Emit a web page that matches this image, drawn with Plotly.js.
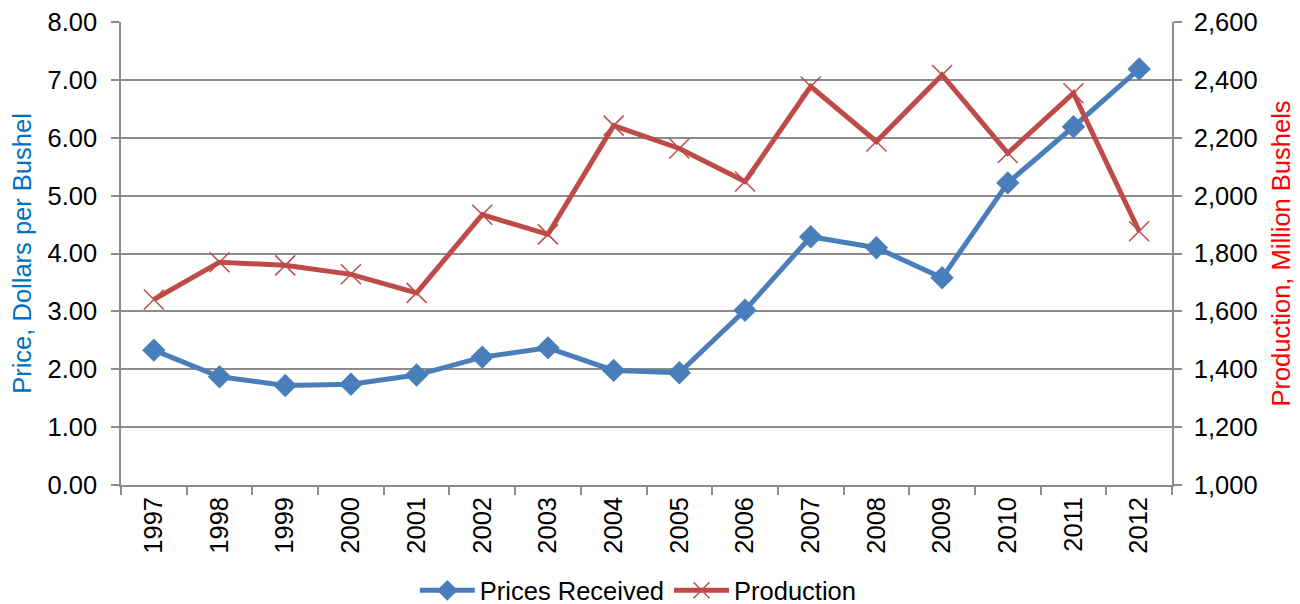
<!DOCTYPE html>
<html>
<head>
<meta charset="utf-8">
<script src="https://cdn.plot.ly/plotly-3.0.1.min.js"></script>
<style>html,body{margin:0;padding:0;background:#fff;}#chart{width:1300px;height:604px;}</style>
</head>
<body>
<div id="chart"></div>
<script>
const years = ["1997","1998","1999","2000","2001","2002","2003","2004","2005","2006","2007","2008","2009","2010","2011","2012"];
const pricesReceived = [2.33, 1.87, 1.72, 1.74, 1.90, 2.21, 2.37, 1.98, 1.94, 3.02, 4.29, 4.10, 3.58, 5.22, 6.19, 7.19];
const production = [1641, 1770, 1759, 1728, 1664, 1934, 1866, 2242, 2163, 2049, 2377, 2187, 2417, 2147, 2354, 1877];

const font = "Liberation Sans, Arial, sans-serif";
const fs = 25.5;
const gridColor = "#8c8c8c";

const traces = [
  {
    x: years, y: pricesReceived, name: "Prices Received", type: "scatter", mode: "lines+markers",
    line: {color: "#4A7EBB", width: 5},
    marker: {symbol: "diamond", size: 18, color: "#4A7EBB"},
    yaxis: "y"
  },
  {
    x: years, y: production, name: "Production", type: "scatter", mode: "lines+markers",
    line: {color: "#BE4B48", width: 5},
    marker: {symbol: "x-thin-open", size: 20, color: "#BE4B48", line: {color: "#BE4B48", width: 1.5}},
    yaxis: "y2"
  }
];

const layout = {
  width: 1300, height: 604,
  margin: {l: 121, r: 128, t: 22, b: 119},
  paper_bgcolor: "#ffffff", plot_bgcolor: "#ffffff",
  font: {family: font, size: fs, color: "#000000"},
  showlegend: true,
  legend: {orientation: "h", x: 0.491, xanchor: "center", xref: "container",
           y: 0.022, yanchor: "middle", yref: "container",
           font: {family: font, size: fs, color: "#000"}, itemwidth: 55, traceorder: "normal"},
  xaxis: {
    type: "category", range: [-0.5, years.length - 0.5], autorange: false,
    tickangle: -90, showgrid: false,
    showline: true, linecolor: gridColor, linewidth: 1.5,
    ticks: "outside", tickson: "boundaries", ticklen: 8, tickcolor: gridColor, tickwidth: 1.5,
    tickfont: {family: font, size: fs, color: "#000"}, zeroline: false
  },
  yaxis: {
    range: [0, 8], dtick: 1, tickformat: ".2f",
    showgrid: true, gridcolor: gridColor, gridwidth: 1.5,
    showline: true, linecolor: gridColor, linewidth: 1.5,
    ticks: "outside", ticklen: 8, tickcolor: gridColor, tickwidth: 1.5, ticklabelstandoff: 9,
    tickfont: {family: font, size: fs, color: "#000"}, zeroline: false,
    title: {text: "Price, Dollars per Bushel", font: {family: font, size: fs, color: "#0070C0"}, standoff: 9}
  },
  yaxis2: {
    range: [1000, 2600], dtick: 200, tickformat: ",d",
    overlaying: "y", side: "right", showgrid: false,
    showline: true, linecolor: gridColor, linewidth: 1.5,
    ticks: "outside", ticklen: 8, tickcolor: gridColor, tickwidth: 1.5, ticklabelstandoff: 7,
    tickfont: {family: font, size: fs, color: "#000"}, zeroline: false,
    title: {text: "Production, Million Bushels", font: {family: font, size: fs, color: "#FF0000"}, standoff: 15}
  }
};

Plotly.newPlot("chart", traces, layout, {displayModeBar: false, responsive: false});
</script>
</body>
</html>
